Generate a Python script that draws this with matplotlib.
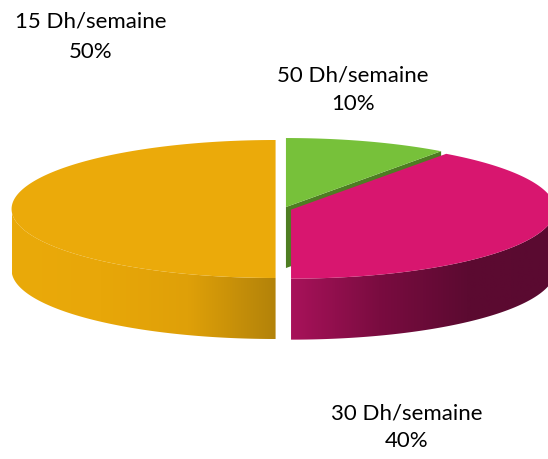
import numpy as np
import matplotlib
matplotlib.use("Agg")
import matplotlib.pyplot as plt
from matplotlib.patches import Polygon
from matplotlib.colors import LinearSegmentedColormap

# ---- data ----
categories = ["50 Dh/semaine", "30 Dh/semaine", "15 Dh/semaine"]
values = [10, 40, 50]
pct_labels = ["10%", "40%", "50%"]

top_colors = ["#77C13A", "#D8166F", "#EBAA0A"]
side_stops = [["#4C7C22", "#4C7C22"],
              ["#A8125A", "#7A0C40", "#5C0A31", "#5A0A30"],
              ["#EAAA0A", "#E8A709", "#DFA008", "#B2820A"]]
wall_colors = ["#4E7D23", "#8A0F47", "#B2820A"]
explode = 0.03
label_pos = [(353, 75, 104), (407, 413, 441), (91, 22, 52)]

# ---- geometry (pixel space) ----
W, H = 548, 459
cx, cy, rx, ry, depth = 283.5, 209.0, 264.0, 69.0, 61.0

fig = plt.figure(figsize=(W / 100, H / 100), dpi=100)
ax = fig.add_axes([0, 0, 1, 1])
ax.set_xlim(0, W)
ax.set_ylim(H, 0)
ax.axis("off")

def pt(c, th, dz=0.0):
    return (c[0] + rx * np.sin(th), c[1] - ry * np.cos(th) + dz)

total = float(sum(values))
angles = np.concatenate([[0], np.cumsum(values) / total * 2 * np.pi])
centers = []
for i in range(len(values)):
    m = (angles[i] + angles[i + 1]) / 2
    centers.append((cx + explode * rx * np.sin(m), cy - explode * ry * np.cos(m)))

def gradient_fill(poly_pts, stops, zorder):
    xs = poly_pts[:, 0]
    x0, x1 = xs.min(), xs.max()
    y0, y1 = poly_pts[:, 1].min(), poly_pts[:, 1].max()
    cmap = LinearSegmentedColormap.from_list("g", stops)
    grad = np.linspace(0, 1, 256)[None, :]
    patch = Polygon(poly_pts, closed=True, facecolor="none", edgecolor="none")
    ax.add_patch(patch)
    im = ax.imshow(grad, cmap=cmap, extent=[x0, x1, y1, y0], aspect="auto",
                   zorder=zorder, interpolation="bilinear")
    im.set_clip_path(patch)

# radial walls
for i in range(len(values)):
    c = centers[i]
    for phi, sgn in ((angles[i], -1), (angles[i + 1], 1)):
        psi = phi + sgn * np.pi / 2
        if np.cos(psi) < -1e-6:
            p_out = pt(c, phi)
            poly = np.array([c, p_out, (p_out[0], p_out[1] + depth), (c[0], c[1] + depth)])
            ax.add_patch(Polygon(poly, closed=True, facecolor=wall_colors[i],
                                 edgecolor="none", zorder=1))

# outer sides
for i in range(len(values)):
    c = centers[i]
    a = max(angles[i], np.pi / 2)
    b = min(angles[i + 1], 3 * np.pi / 2)
    if b <= a:
        continue
    th = np.linspace(a, b, 200)
    top = np.array([pt(c, t) for t in th])
    bot = np.array([pt(c, t, depth) for t in th[::-1]])
    poly = np.vstack([top, bot])
    gradient_fill(poly, side_stops[i], zorder=2)

# top faces
for i in range(len(values)):
    c = centers[i]
    th = np.linspace(angles[i], angles[i + 1], 300)
    arc = np.array([pt(c, t) for t in th])
    poly = np.vstack([[c], arc])
    ax.add_patch(Polygon(poly, closed=True, facecolor=top_colors[i],
                         edgecolor="none", zorder=3))

# labels
for i in range(len(values)):
    x, y1, y2 = label_pos[i]
    ax.text(x, y1, categories[i], ha="center", va="center", fontsize=16,
            family="Lato", color="#000000")
    ax.text(x, y2, pct_labels[i], ha="center", va="center", fontsize=16,
            family="Lato", color="#000000")

fig.savefig("out.png", dpi=100)
